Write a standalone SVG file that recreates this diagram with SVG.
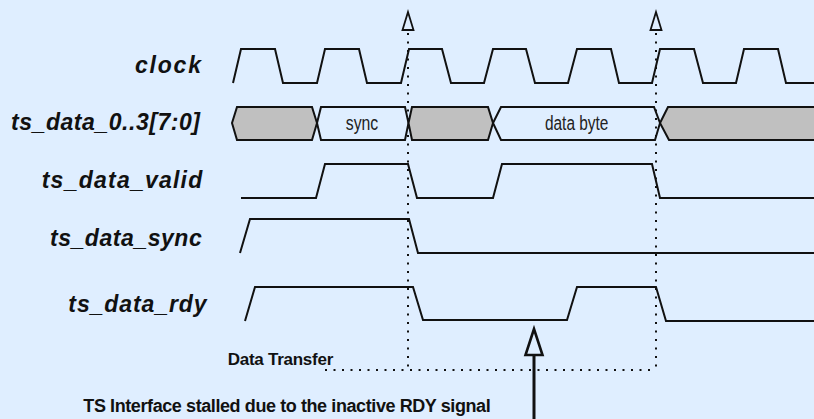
<svg xmlns="http://www.w3.org/2000/svg" width="814" height="419" viewBox="0 0 814 419">
<style>
.lbl{font-family:"Liberation Sans",Arial,sans-serif;font-weight:bold;font-style:italic;font-size:23px;fill:#111}
.bus{font-family:"Liberation Sans",Arial,sans-serif;font-size:20px;fill:#222;text-anchor:middle}
.note{font-family:"Liberation Sans",Arial,sans-serif;font-weight:bold;fill:#111}
.wave{fill:none;stroke:#111;stroke-width:2;stroke-linejoin:miter}
.gray{fill:#c0c0c0;stroke:#111;stroke-width:2}
.clear{fill:#dfeeff;stroke:#111;stroke-width:2}
.dot{fill:none;stroke:#111;stroke-width:2;stroke-dasharray:2 6.5}
.tri{fill:#dfeeff;stroke:#111;stroke-width:1.8;stroke-linejoin:miter}
</style>
<rect x="0" y="0" width="814" height="419" fill="#dfeeff"/>

<g id="labels">
<text class="lbl" x="135" y="73" textLength="66" lengthAdjust="spacing">clock</text>
<text class="lbl" x="11" y="129.5" textLength="189" lengthAdjust="spacing">ts_data_0..3[7:0]</text>
<text class="lbl" x="41.7" y="188" textLength="160.6" lengthAdjust="spacing">ts_data_valid</text>
<text class="lbl" x="50" y="246" textLength="151.7" lengthAdjust="spacing">ts_data_sync</text>
<text class="lbl" x="68.3" y="311.7" textLength="138.3" lengthAdjust="spacing">ts_data_rdy</text>
</g>

<g id="clock">
<polyline class="wave" points="233,83 241,49 275,49 283,83 317,83 325,49 359,49 367,83 401,83 409,49 442,49 451,83 484,83 493,49 526,49 535,83 568,83 577,49 611,49 619,83 652,83 660,49 694,49 703,83 736,83 744,49 778,49 786,83 816,83"/>
</g>

<g id="ts_data">
<polygon class="gray" points="232,123 237,107 312,107 317,123 312,140 237,140"/>
<polygon class="clear" points="317,123 321,107 405,107 408.5,123 405,140 321,140"/>
<polygon class="gray" points="408.5,123 412,107 488,107 493,123 488,140 412,140"/>
<polygon class="clear" points="493,123 501,107 654,107 660,123 655,140 501,140"/>
<polygon class="gray" points="660,123 668,107 818,107 818,140 669,140"/>
<text class="bus" x="362" y="129.5" textLength="32.5" lengthAdjust="spacingAndGlyphs">sync</text>
<text class="bus" x="576.7" y="129.5" textLength="63.5" lengthAdjust="spacingAndGlyphs">data byte</text>
</g>

<g id="ts_data_valid">
<polyline class="wave" points="241,198 316,198 325,164 408,164 417,198 493,198 502,164 652,164 660,198 816,198"/>
</g>

<g id="ts_data_sync">
<polyline class="wave" points="240,253 250,219 409,219 418,253 816,253"/>
</g>

<g id="ts_data_rdy">
<polyline class="wave" points="245,321 255,287 413,287 423,320 567,320 577,287 656,287 666,321 816,321"/>
</g>

<g id="connectors">
<line class="dot" x1="408" y1="33" x2="408" y2="370"/>
<line class="dot" x1="656" y1="33" x2="656" y2="370"/>
<line class="dot" x1="325" y1="370" x2="656" y2="370"/>
<polygon class="tri" points="408,12 402.5,30 413.5,30"/>
<polygon class="tri" points="656,12 650.5,30 661.5,30"/>
<line x1="534" y1="355" x2="534" y2="421" stroke="#111" stroke-width="3"/>
<polygon points="534,329 525.5,355 542.5,355" fill="#dfeeff" stroke="#111" stroke-width="2.6" stroke-linejoin="miter"/>
</g>

<g id="notes">
<text class="note" x="227.7" y="365" font-size="17" textLength="105.6" lengthAdjust="spacing">Data Transfer</text>
<text class="note" x="83.3" y="412.3" font-size="18" textLength="407.4" lengthAdjust="spacing">TS Interface stalled due to the inactive RDY signal</text>
</g>
</svg>
